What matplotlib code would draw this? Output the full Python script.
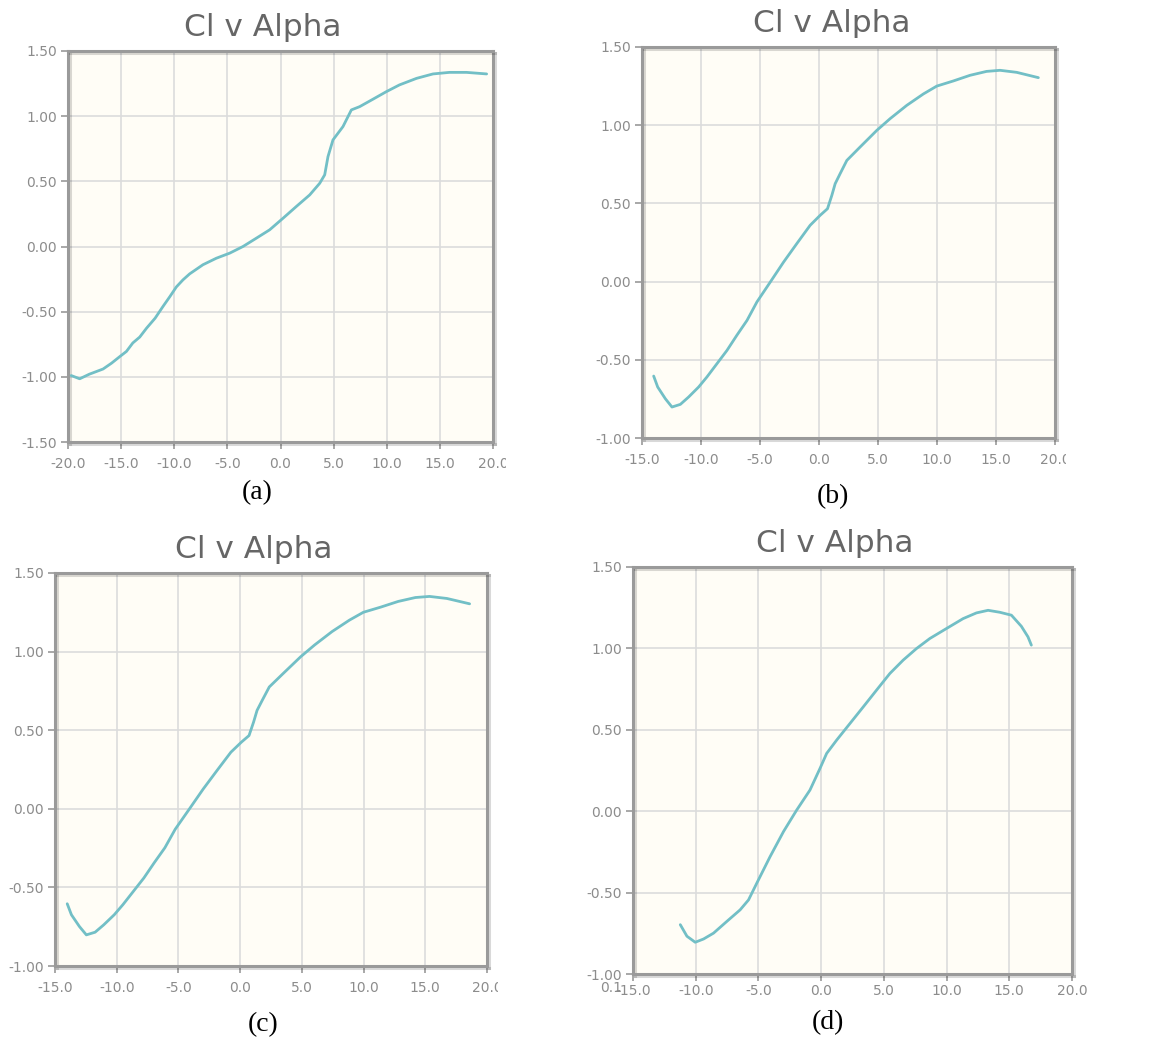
import numpy as np
import matplotlib as mpl

mpl.use("Agg")

import matplotlib.pyplot as plt
import matplotlib.patheffects as pe
from matplotlib.transforms import Bbox

# ================================
# 数据
# ================================
alpha_a = [-19.7, -18.9, -18.0, -16.7, -15.9, -15.1, -14.5, -13.9, -13.25, -12.6,
           -11.8, -11.06, -10.4, -9.8, -9.18, -8.55, -7.3, -6.04, -4.78, -3.53,
           -2.27, -1.02, 0.24, 1.49, 2.75, 3.69, 4.16, 4.47, 4.94, 5.88,
           6.67, 7.45, 8.7, 9.96, 11.2, 12.8, 14.35, 15.9, 17.5, 19.4]
cl_a = [-0.99, -1.015, -0.98, -0.94, -0.895, -0.843, -0.805, -0.74, -0.695, -0.626,
        -0.55, -0.46, -0.383, -0.31, -0.256, -0.21, -0.14, -0.09, -0.051, 0.0,
        0.064, 0.128, 0.217, 0.307, 0.396, 0.485, 0.55, 0.69, 0.818, 0.92,
        1.048, 1.073, 1.13, 1.188, 1.24, 1.29, 1.324, 1.336, 1.336, 1.324]

alpha_b = [-14.01, -13.67, -13.02, -12.46, -11.75, -11.05, -10.2, -9.5, -8.65, -7.8,
           -6.96, -6.1, -5.26, -4.13, -3.0, -1.88, -0.75, 0.1, 0.72, 1.09,
           1.37, 1.79, 2.36, 3.49, 4.9, 6.03, 7.44, 8.85, 9.98, 11.39,
           12.8, 14.2, 15.34, 16.75, 18.59]
cl_b = [-0.604, -0.674, -0.749, -0.802, -0.785, -0.738, -0.674, -0.61, -0.525, -0.44,
        -0.343, -0.248, -0.13, -0.003, 0.125, 0.243, 0.36, 0.424, 0.466, 0.552,
        0.626, 0.69, 0.775, 0.861, 0.967, 1.042, 1.127, 1.2, 1.25, 1.283,
        1.319, 1.344, 1.351, 1.338, 1.304]

# (c) 与 (b) 相同
alpha_c = list(alpha_b)
cl_c = list(cl_b)

alpha_d = [-11.23, -10.7, -10.04, -9.375, -8.58, -7.52, -6.46, -5.79, -5.13, -4.07,
           -3.0, -1.95, -0.89, -0.09, 0.44, 1.24, 2.3, 3.36, 4.42, 5.48,
           6.54, 7.6, 8.67, 9.99, 11.32, 12.38, 13.31, 14.24, 15.17, 15.96,
           16.49, 16.76]
cl_d = [-0.697, -0.768, -0.805, -0.785, -0.749, -0.677, -0.606, -0.545, -0.442, -0.279,
        -0.125, 0.007, 0.13, 0.263, 0.355, 0.437, 0.539, 0.641, 0.744, 0.846,
        0.928, 0.999, 1.061, 1.122, 1.183, 1.218, 1.234, 1.222, 1.204, 1.136,
        1.071, 1.02]

xticks_a = [-20, -15, -10, -5, 0, 5, 10, 15, 20]
yticks_a = [-1.5, -1.0, -0.5, 0.0, 0.5, 1.0, 1.5]
xticks_b = [-15, -10, -5, 0, 5, 10, 15, 20]
yticks_b = [-1.0, -0.5, 0.0, 0.5, 1.0, 1.5]

TITLE = "Cl v Alpha"
LABELS = ["(a)", "(b)", "(c)", "(d)"]

# ================================
# 样式
# ================================
W, H = 1153, 1057
LINE_C = "#72bfc6"
BG_C = "#fffdf6"
GRID_C = "#dcdcdc"
FRAME_C = "#9a9a9a"
TICK_C = "#8c8c8c"
TITLE_C = "#666666"

fig = plt.figure(figsize=(W / 100, H / 100), dpi=100)


def px_axes(l, r, t, b):
    return fig.add_axes([l / W, 1 - b / H, (r - l) / W, (b - t) / H])


panels = [
    # (left, right, top, bottom) 像素, 数据, 刻度, 标题位置, 标签位置, 右侧裁剪, x 刻度间距
    ((68, 493, 51, 442), alpha_a, cl_a, xticks_a, yticks_a, (263, 28), (257, 493), 506, 6),
    ((642, 1055, 47, 438), alpha_b, cl_b, xticks_b, yticks_b, (832, 23), (833, 497), 1066, 6),
    ((55, 487, 573, 966), alpha_c, cl_c, xticks_b, yticks_b, (254, 550), (263, 1025), 498, 6),
    ((633, 1072, 567, 974), alpha_d, cl_d, xticks_b, yticks_b, (835, 543), (828, 1023), 1150, 2),
]

shadow = [pe.SimpleLineShadow(offset=(1.5, -1.5), shadow_color="#000000", alpha=0.15),
          pe.Normal()]

for i, (box, xs, ys, xt, yt, tpos, lpos, clip_r, xpad) in enumerate(panels):
    ax = px_axes(*box)
    ax.set_facecolor(BG_C)
    ax.plot(xs, ys, color=LINE_C, lw=2.0, solid_capstyle="round",
            solid_joinstyle="round", zorder=3)
    ax.set_xlim(xt[0], xt[-1])
    ax.set_ylim(yt[0], yt[-1])
    ax.set_xticks(xt)
    ax.set_yticks(yt)
    ax.set_xticklabels([f"{v:.1f}" for v in xt])
    ax.set_yticklabels([f"{v:.2f}" for v in yt])
    ax.grid(True, color=GRID_C, lw=1.2, zorder=0)
    ax.set_axisbelow(True)
    for sp in ax.spines.values():
        sp.set_color(FRAME_C)
        sp.set_linewidth(2.2)
        sp.set_path_effects(shadow)
    ax.tick_params(axis="both", colors=FRAME_C, labelcolor=TICK_C, labelsize=10,
                   length=5, width=1.2, direction="out")
    ax.tick_params(axis="x", pad=xpad)
    ax.tick_params(axis="y", pad=3)

    # 原图中最右侧的刻度文字被截断
    clip_box = Bbox.from_extents(0, 0, clip_r, H)
    for lab in ax.get_xticklabels():
        lab.set_clip_box(clip_box)
        lab.set_clip_on(True)

    fig.text(tpos[0] / W, 1 - tpos[1] / H, TITLE, ha="center", va="center",
             fontsize=22.5, color=TITLE_C, family="DejaVu Sans")
    fig.text(lpos[0] / W, 1 - lpos[1] / H, LABELS[i], ha="center", va="center",
             fontsize=20, color="black", family="Liberation Serif")

    if i == 3:
        # (d) 左下角与 -15.0 重叠的文字
        fig.text(611 / W, 1 - 988 / H, "0.1", ha="center", va="center",
                 fontsize=10, color=TICK_C)

fig.savefig("out.png", dpi=100, facecolor="white")
plt.close(fig)
